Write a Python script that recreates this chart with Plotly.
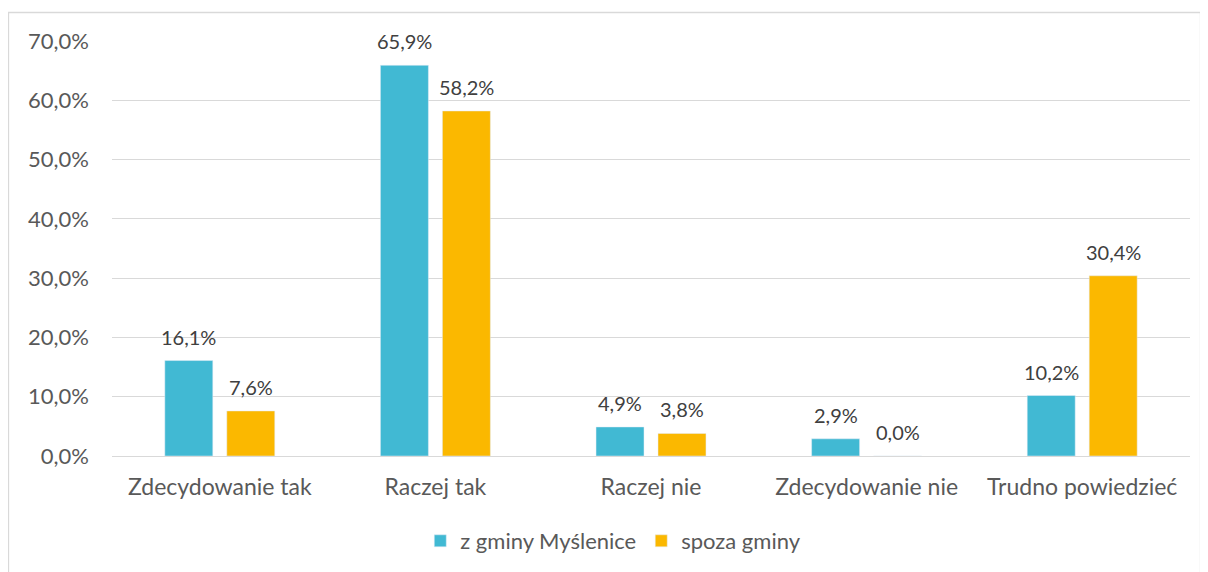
import plotly.graph_objects as go

categories = ["Zdecydowanie tak", "Raczej tak", "Raczej nie", "Zdecydowanie nie", "Trudno powiedzieć"]
z_gminy = [16.1, 65.9, 4.9, 2.9, 10.2]
spoza_gminy = [7.6, 58.2, 3.8, 0.0, 30.4]
tick_vals = [0, 10, 20, 30, 40, 50, 60, 70]
tick_text = ["0,0%", "10,0%", "20,0%", "30,0%", "40,0%", "50,0%", "60,0%", "70,0%"]

def fmt(v):
    return f"{v:.1f}".replace(".", ",") + "%"

FONT = "Lato, Open Sans, sans-serif"
OFF = 8  # page body margin
W, H = 1208, 572
L, R, T, B = 112 - OFF, 18 + OFF, 41 - OFF, 116 + OFF
pw, ph = W - L - R, H - T - B

fig = go.Figure()
fig.add_trace(go.Bar(name="z gminy Myślenice", x=categories, y=z_gminy,
                     marker_color="#41B9D3"))
fig.add_trace(go.Bar(name="spoza gminy", x=categories, y=spoza_gminy,
                     marker_color="#FBB800"))

annotations = []
for series, xs in ((z_gminy, -31), (spoza_gminy, 31)):
    for c, v in zip(categories, series):
        annotations.append(dict(x=c, y=v, xref="x", yref="y", text=fmt(v), showarrow=False,
                                xanchor="center", yanchor="bottom", xshift=xs, yshift=10,
                                font=dict(size=20, color="#404040", family=FONT)))

def px_x(p):
    return (p - OFF - L) / pw

def px_y(p):
    return (H - B - (p - OFF)) / ph

fig.update_layout(
    width=W, height=H,
    margin=dict(l=L, r=R, t=T, b=B),
    paper_bgcolor="white", plot_bgcolor="white",
    barmode="group", bargap=0.425, bargroupgap=0.226,
    font=dict(family=FONT, color="#595959", size=22),
    showlegend=True,
    legend=dict(orientation="h", x=0.465, xanchor="center", y=px_y(541), yanchor="middle",
                font=dict(size=22, color="#595959"), itemwidth=30),
    xaxis=dict(showgrid=False, showline=False, ticks="", tickfont=dict(size=23, color="#595959"),
               ticklabelstandoff=15),
    yaxis=dict(range=[0, 70], tickvals=tick_vals, ticktext=tick_text, showgrid=True,
               gridcolor="#D9D9D9", gridwidth=1.3, zeroline=True, zerolinecolor="#D9D9D9",
               zerolinewidth=1.3, showline=False, ticks="", ticklabelstandoff=22,
               tickfont=dict(size=22, color="#595959")),
    annotations=annotations,
    shapes=[dict(type="rect", xref="paper", yref="paper",
                 x0=px_x(8.5), x1=px_x(1200.5), y0=px_y(12.5), y1=px_y(600),
                 line=dict(color="#D9D9D9", width=1.3), fillcolor="rgba(0,0,0,0)", layer="below")],
)
fig.write_html("out.html")
